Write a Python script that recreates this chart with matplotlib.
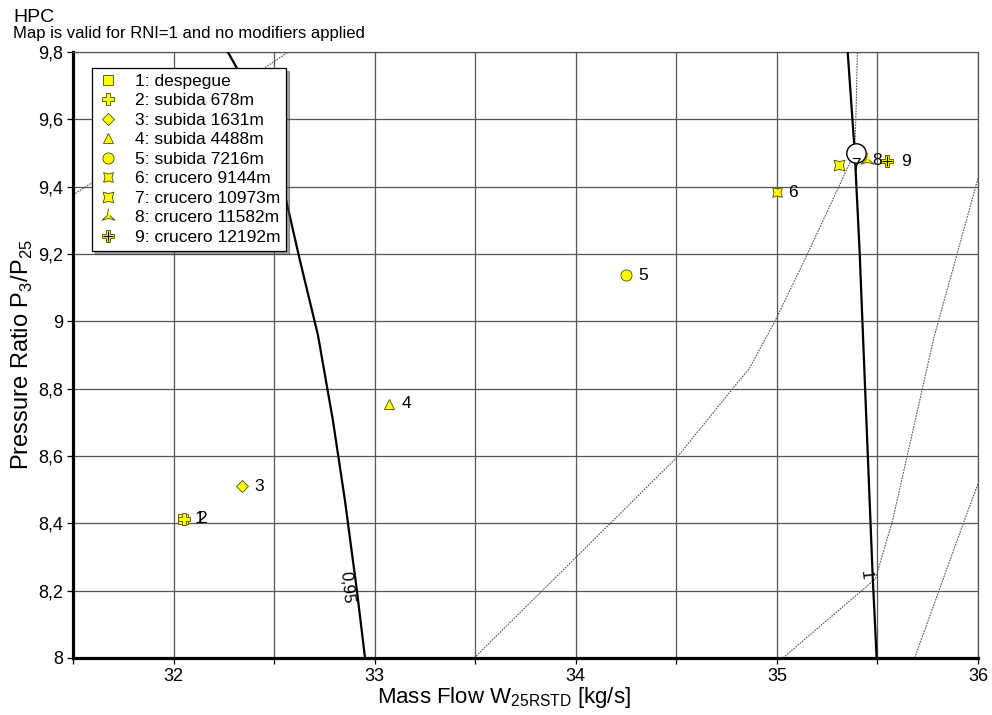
import numpy as np
import matplotlib.pyplot as plt
from matplotlib.ticker import MultipleLocator, FuncFormatter
from matplotlib.legend_handler import HandlerTuple

plt.rcParams['font.family'] = ['Liberation Sans', 'DejaVu Sans']

# operating points (mass flow, pressure ratio)
pt_labels = ["1: despegue", "2: subida 678m", "3: subida 1631m", "4: subida 4488m",
             "5: subida 7216m", "6: crucero 9144m", "7: crucero 10973m",
             "8: crucero 11582m", "9: crucero 12192m"]
pt_x = [32.045, 32.05, 32.34, 33.07, 34.25, 35.0, 35.307, 35.446, 35.55]
pt_y = [8.413, 8.413, 8.51, 8.755, 9.137, 9.384, 9.464, 9.479, 9.476]

# design point
dp_x = [35.392]
dp_y = [9.50]

# speed lines (thick)
n095_x = [32.27, 32.315, 32.439, 32.554, 32.628, 32.718, 32.792, 32.852, 32.912, 32.952]
n095_y = [9.80, 9.752, 9.553, 9.375, 9.182, 8.959, 8.707, 8.469, 8.199, 8.00]
n100_x = [35.352, 35.387, 35.411, 35.441, 35.476, 35.496]
n100_y = [9.80, 9.503, 9.212, 8.766, 8.247, 8.00]

# thin dotted lines
la_x = [31.5, 32.0, 32.57]
la_y = [9.375, 9.57, 9.80]
lb_x = [33.495, 34.505, 34.78, 34.863, 34.99, 35.152, 35.308, 35.387, 35.395, 35.40]
lb_y = [8.0, 8.597, 8.80, 8.86, 9.0, 9.2, 9.4, 9.503, 9.65, 9.8]
lc_x = [35.03, 35.49, 35.576, 35.78, 36.0]
lc_y = [8.0, 8.235, 8.41, 8.95, 9.425]
ld_x = [35.685, 35.933, 36.0]
ld_y = [8.0, 8.41, 8.517]

# three-armed star marker (point 8)
ang = np.deg2rad(np.arange(6) * 60 + 90)
rad = np.array([1.0, 0.22] * 3)
tri_star = list(zip(rad * np.cos(ang), rad * np.sin(ang)))

fig = plt.figure(figsize=(9.92, 7.15), dpi=100)
ax = fig.add_axes([73/992, 57/715, 905/992, 606/715])

for xs, ys in [(la_x, la_y), (lb_x, lb_y), (lc_x, lc_y), (ld_x, ld_y)]:
    ax.plot(xs, ys, color='#555555', lw=0.8, ls=(0, (1.5, 1)), zorder=2)
ax.plot(n095_x, n095_y, color='black', lw=1.6, zorder=3)
ax.plot(n100_x, n100_y, color='black', lw=1.6, zorder=3)

ax.text(32.86, 8.21, "0,95", rotation=-84, fontsize=12, ha='center', va='center')
ax.text(35.44, 8.245, "1", rotation=-84, fontsize=12, ha='center', va='center')

ax.plot(dp_x, dp_y, 'o', ms=14, mfc='white', mec='black', mew=1.0, zorder=5)

yel = '#ffff00'
edge = '#4a4a00'
mk = ['s', 'P', 'D', '^', 'o', (4, 1, 45), (4, 1, 45), tri_star, 'P']
ms = [7, 8, 6, 7, 8, 10, 11, 11, 9]
handles = []
for i in range(len(pt_x)):
    h, = ax.plot(pt_x[i], pt_y[i], ls='none', marker=mk[i], ms=ms[i],
                 mfc=yel, mec=edge, mew=0.6, zorder=6)
    if i == 8:
        h2, = ax.plot(pt_x[i], pt_y[i], ls='none', marker='+', ms=7,
                      mec='black', mew=0.8, zorder=7)
        handles.append((h, h2))
    else:
        handles.append(h)

offs = [9, 10, 9, 9, 9, 8, 9, 4, 10]
for i in range(len(pt_x)):
    ax.annotate(str(i + 1), (pt_x[i], pt_y[i]), xytext=(offs[i], 0),
                textcoords='offset points', fontsize=12.5, va='center', ha='left',
                zorder=8)

ax.set_xlim(31.5, 36)
ax.set_ylim(8, 9.8)
ax.xaxis.set_major_locator(MultipleLocator(1))
ax.xaxis.set_minor_locator(MultipleLocator(0.5))
ax.yaxis.set_major_locator(MultipleLocator(0.2))
comma = FuncFormatter(lambda v, p: ('%g' % round(v, 2)).replace('.', ','))
ax.xaxis.set_major_formatter(comma)
ax.yaxis.set_major_formatter(comma)
ax.grid(True, which='both', color='#555555', lw=0.9, zorder=1)
ax.set_axisbelow(True)
ax.tick_params(which='both', direction='out', length=4, width=0.9, labelsize=13, pad=3)

for s in ['left', 'bottom']:
    ax.spines[s].set_linewidth(2.3)
for s in ['top', 'right']:
    ax.spines[s].set_linewidth(0.9)
    ax.spines[s].set_color('#555555')

ax.set_xlabel("Mass Flow W$_{\\mathregular{25RSTD}}$ [kg/s]", fontsize=16, labelpad=0)
ax.xaxis.set_label_coords(0.476, -0.045, transform=ax.transAxes)
ax.xaxis.label.set_va('top')
ax.set_ylabel("Pressure Ratio P$_{\\mathregular{3}}$/P$_{\\mathregular{25}}$", fontsize=17, labelpad=2)

leg = ax.legend(handles, pt_labels, loc='upper left', bbox_to_anchor=(0.021, 0.974),
                borderaxespad=0, fontsize=12.5, frameon=True, fancybox=False,
                shadow=True, edgecolor='black', framealpha=1, labelspacing=0.25,
                handlelength=1.2, handletextpad=0.9, borderpad=0.35,
                handler_map={tuple: HandlerTuple(ndivide=1)})
leg.get_frame().set_linewidth(0.9)
leg.set_zorder(10)

fig.text(13/992, 1 - 22/715, "HPC", fontsize=14, ha='left', va='baseline')
fig.text(13/992, 1 - 38/715, "Map is valid for RNI=1 and no modifiers applied",
         fontsize=12, ha='left', va='baseline')

fig.savefig("out.png", dpi=100)
